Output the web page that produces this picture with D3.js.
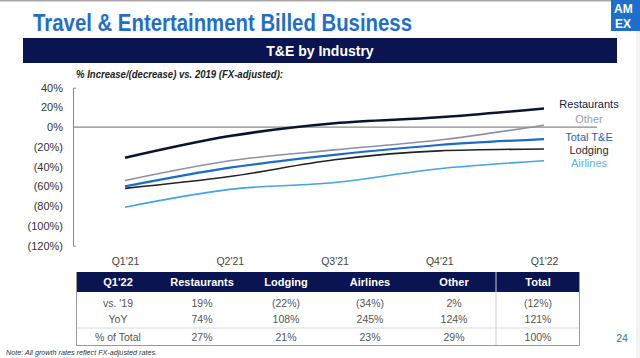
<!DOCTYPE html>
<html><head><meta charset="utf-8">
<script src="https://cdn.jsdelivr.net/npm/d3@7"></script>
<style>html,body{margin:0;padding:0;background:#fff;overflow:hidden}</style>
</head><body>
<svg id="c" width="640" height="358"></svg>
<script>
// ---- data ----
const quarters = ["Q1'21","Q2'21","Q3'21","Q4'21","Q1'22"];
const restaurants = [-31,-9,4,10,19];
const other = [-54,-34,-23,-13,2];
const totalTE = [-60,-41,-28,-18,-12];
const lodging = [-62,-50,-33,-24,-22];
const airlines = [-81,-63,-56,-42,-34];
const seriesNames = ["Restaurants","Other","Total T&E","Lodging","Airlines"];
const yTicks = [40,20,0,-20,-40,-60,-80,-100,-120];

const tableHeader = ["Q1'22","Restaurants","Lodging","Airlines","Other","Total"];
const rowLabels = ["vs. '19","YoY","% of Total"];
const vs19 = ["19%","(22%)","(34%)","2%","(12%)"];
const yoy = ["74%","108%","245%","124%","121%"];
const pctTotal = ["27%","21%","23%","29%","100%"];

// ---- styles ----
const NAVY = "#0a1450", BLUE = "#1f6fc8";
const seriesStyle = {
  "Restaurants": {color:"#0c1330", width:2.6, label:"#111a45", ly:104},
  "Other":       {color:"#8b90a8", width:1.6, label:"#9aa0b2", ly:119},
  "Total T&E":   {color:"#1a6cc8", width:2.2, label:"#1f63b8", ly:137},
  "Lodging":     {color:"#222222", width:1.6, label:"#2a2a2a", ly:150},
  "Airlines":    {color:"#43a3e3", width:1.6, label:"#5aaee4", ly:163}
};
const seriesData = [restaurants, other, totalTE, lodging, airlines];

const svg = d3.select("#c");
const F = "'Liberation Sans', Arial, sans-serif";
const FN = "'Liberation Sans Narrow', 'Liberation Sans', Arial, sans-serif";

// top grey rule and right strip
svg.append("rect").attr("x",0).attr("y",0).attr("width",611).attr("height",1.5).attr("fill","#a8a8a8");
svg.append("rect").attr("x",636).attr("y",31).attr("width",4).attr("height",327).attr("fill","#f2f2f2");

// title
svg.append("text").attr("x",33).attr("y",31)
  .attr("font-family",FN).attr("font-weight","bold").attr("font-size",23)
  .attr("fill",BLUE).attr("textLength",379).attr("lengthAdjust","spacingAndGlyphs")
  .text("Travel & Entertainment Billed Business");

// logo
svg.append("rect").attr("x",611).attr("y",0).attr("width",29).attr("height",31).attr("fill","#1e6fcb");
svg.append("text").attr("x",614).attr("y",13).attr("font-family",F).attr("font-weight","bold")
  .attr("font-size",12).attr("fill","#fff").text("AM");
svg.append("text").attr("x",615).attr("y",28).attr("font-family",F).attr("font-weight","bold")
  .attr("font-size",12).attr("fill","#fff").text("EX");

// banner
svg.append("rect").attr("x",23).attr("y",38).attr("width",594).attr("height",25).attr("fill",NAVY);
svg.append("text").attr("x",320).attr("y",55.5).attr("text-anchor","middle")
  .attr("font-family",F).attr("font-weight","bold").attr("font-size",14).attr("fill","#fff")
  .text("T&E by Industry");

// subtitle
svg.append("text").attr("x",76).attr("y",78)
  .attr("font-family",FN).attr("font-style","italic").attr("font-weight","bold")
  .attr("font-size",11).attr("fill","#222").attr("textLength",207).attr("lengthAdjust","spacingAndGlyphs")
  .text("% Increase/(decrease)  vs.  2019  (FX-adjusted):");

// scales
const x = d3.scalePoint().domain(quarters).range([125,544]);
const y = d3.scaleLinear().domain([-120,40]).range([245.7,87.7]);

// y axis
const fmt = v => v < 0 ? "(" + Math.abs(v) + "%)" : v + "%";
const yAxis = svg.append("g").attr("transform","translate(73,0)")
  .call(d3.axisLeft(y).tickValues(yTicks).tickFormat(fmt).tickSizeInner(0).tickSizeOuter(-3).tickPadding(10));
yAxis.select(".domain").attr("stroke","#888").attr("stroke-width",1);
yAxis.selectAll("text").attr("font-family",F).attr("font-size",11).attr("fill","#333");

// zero line
svg.append("line").attr("x1",73).attr("x2",597).attr("y1",y(0)).attr("y2",y(0))
  .attr("stroke","#8a8a8a").attr("stroke-width",1.2);

// x axis labels
const xAxis = svg.append("g").attr("transform","translate(0,258)")
  .call(d3.axisBottom(x).tickSize(0).tickPadding(0));
xAxis.select(".domain").remove();
xAxis.selectAll("text").attr("font-family",F).attr("font-size",10.5).attr("fill","#444");

// lines
const line = d3.line().x((d,i)=>x(quarters[i])).y(d=>y(d)).curve(d3.curveMonotoneX);
const order = [4,3,1,2,0];
svg.append("g").selectAll("path").data(order).join("path")
  .attr("d", i => line(seriesData[i]))
  .attr("fill","none")
  .attr("stroke", i => seriesStyle[seriesNames[i]].color)
  .attr("stroke-width", i => seriesStyle[seriesNames[i]].width)
  .attr("stroke-linecap","butt").attr("stroke-linejoin","round");

// series labels
svg.append("g").selectAll("text").data(seriesNames).join("text")
  .attr("x",589).attr("y", n => seriesStyle[n].ly).attr("dy","0.35em")
  .attr("text-anchor","middle").attr("font-family",F).attr("font-size",11)
  .attr("fill", n => seriesStyle[n].label).text(n => n);

// table
const tx = d3.scaleBand().domain(tableHeader).range([76,580]);
const tb = svg.append("g");
tb.append("rect").attr("x",76).attr("y",272).attr("width",504).attr("height",20).attr("fill",NAVY);
tb.selectAll("text.h").data(tableHeader).join("text").attr("class","h")
  .attr("x", d => tx(d) + tx.bandwidth()/2).attr("y",282).attr("dy","0.35em")
  .attr("text-anchor","middle").attr("font-family",F).attr("font-weight","bold")
  .attr("font-size",11).attr("fill","#fff").text(d => d);

const rows = [vs19, yoy, pctTotal];
const rowY = [303, 319, 337];
rows.forEach((r, ri) => {
  const cells = [rowLabels[ri]].concat(r);
  tb.selectAll("text.r"+ri).data(cells).join("text").attr("class","r"+ri)
    .attr("x",(d,i) => tx(tableHeader[i]) + tx.bandwidth()/2).attr("y",rowY[ri]).attr("dy","0.35em")
    .attr("text-anchor","middle").attr("font-family",F).attr("font-size",10.5)
    .attr("fill","#555").text(d => d);
});
// borders
const bx = tx("Total");
tb.append("line").attr("x1",bx).attr("x2",bx).attr("y1",272).attr("y2",346).attr("stroke","#c8cbd6").attr("stroke-width",1);
tb.append("line").attr("x1",76).attr("x2",580).attr("y1",328).attr("y2",328).attr("stroke","#d8d8d8").attr("stroke-width",1);
tb.append("path").attr("d","M76.5,272V345.5H579.5V272").attr("fill","none").attr("stroke","#9a9a9a").attr("stroke-width",1);

// page number & note
svg.append("text").attr("x",622).attr("y",338).attr("dy","0.35em").attr("text-anchor","middle")
  .attr("font-family",F).attr("font-size",10.5).attr("fill",BLUE).text("24");
svg.append("text").attr("x",6).attr("y",355)
  .attr("font-family",FN).attr("font-style","italic").attr("font-size",7.5).attr("fill","#333")
  .attr("textLength",151).attr("lengthAdjust","spacingAndGlyphs")
  .text("Note: All growth rates reflect FX-adjusted rates.");
</script>
</body></html>
